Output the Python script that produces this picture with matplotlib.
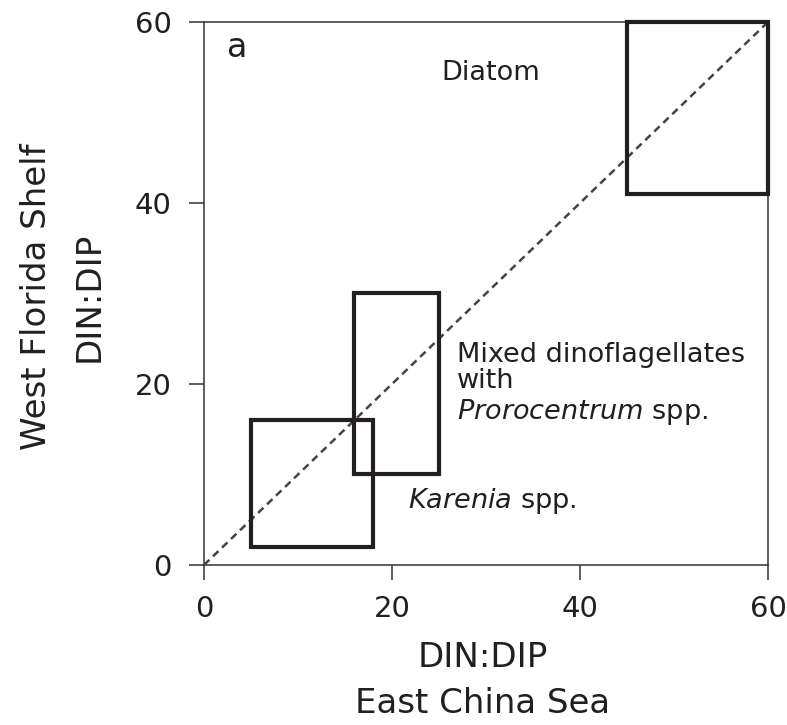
import matplotlib
matplotlib.use("Agg")
import matplotlib.pyplot as plt
from matplotlib.patches import Rectangle

# DIN:DIP ranges for each bloom type (x: East China Sea, y: West Florida Shelf)
groups = ["Karenia", "Mixed dinoflagellates", "Diatom"]
ecs_low = [5, 16, 45]
ecs_high = [18, 25, 60]
wfs_low = [2, 10, 41]
wfs_high = [16, 30, 60]

ticks = [0, 20, 40, 60]

ink = "#231f20"
plt.rcParams["font.family"] = "DejaVu Sans"
plt.rcParams["mathtext.fontset"] = "dejavusans"

fig = plt.figure(figsize=(7.87, 7.25), dpi=100)
ax = fig.add_axes([0.2592, 0.2207, 0.7167, 0.749])
ax.set_xlim(0, 60)
ax.set_ylim(0, 60)

# 1:1 reference line
ax.plot([0, 60], [0, 60], color="#444444", lw=1.8, dashes=(3, 2), zorder=1)

# one rectangle per bloom type
for x0, x1, y0, y1 in zip(ecs_low, ecs_high, wfs_low, wfs_high):
    ax.add_patch(Rectangle((x0, y0), x1 - x0, y1 - y0, fill=False,
                           edgecolor=ink, lw=3.0, clip_on=False, zorder=3))

for side in ax.spines.values():
    side.set_linewidth(1.1)
    side.set_color("#333333")

ax.set_xticks(ticks)
ax.set_yticks(ticks)
ax.tick_params(direction="out", length=10.8, width=1.1, color="#333333",
               labelsize=21, labelcolor=ink)
ax.tick_params(axis="x", pad=10.5)
ax.tick_params(axis="y", pad=12.5)

ax.set_xlabel("DIN:DIP\nEast China Sea", fontsize=24.5, color=ink, linespacing=1.5)
ax.xaxis.set_label_coords(0.494, -0.140)
ax.set_ylabel("West Florida Shelf\nDIN:DIP", fontsize=24.5, color=ink, linespacing=1.75)
ax.yaxis.set_label_coords(-0.175, 0.494)

# panel letter and group labels
ax.text(2.45, 56.1, "a", fontsize=24, color=ink, ha="left", va="baseline")
ax.text(30.5, 53.6, "Diatom", fontsize=19.5, color=ink, ha="center", va="baseline")
ax.text(26.9, 22.4, "Mixed dinoflagellates", fontsize=19.5, color=ink, va="baseline")
ax.text(26.9, 19.6, "with", fontsize=19.5, color=ink, va="baseline")
ax.text(26.9, 16.1, r"$\it{Prorocentrum}$ spp.", fontsize=19.5, color=ink, va="baseline")
ax.text(21.7, 6.3, r"$\it{Karenia}$ spp.", fontsize=19.5, color=ink, va="baseline")

fig.savefig("out.png", dpi=100)
